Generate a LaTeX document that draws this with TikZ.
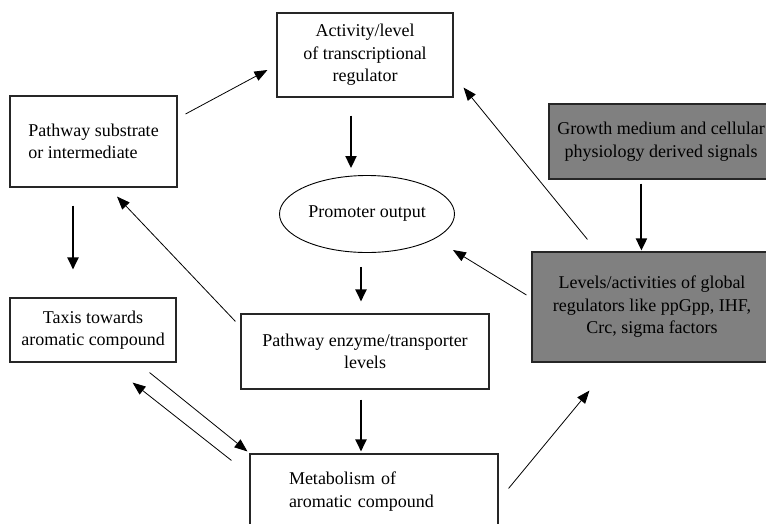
\documentclass[tikz,border=0pt]{standalone}
\usepackage{fontspec}
\setmainfont{Liberation Serif}
\usetikzlibrary{shapes.geometric, arrows.meta, calc}
\definecolor{regulgrey}{RGB}{128,128,128}
\tikzset{
  plainbox/.style={rectangle, draw=black!85, line width=1.1pt, align=center,
    inner sep=0pt, font=\fontsize{18}{22.5}\selectfont},
  greybox/.style={plainbox, fill=regulgrey},
  ovalnode/.style={ellipse, draw=black, line width=0.9pt, inner sep=0pt,
    font=\fontsize{18}{22.5}\selectfont},
  thinarrow/.style={-{Triangle[length=13pt,width=10pt]}, line width=0.8pt},
  boldarrow/.style={-{Triangle[length=12pt,width=11pt]}, line width=2pt}
}

\begin{document}
\begin{tikzpicture}[x=1pt, y=-1pt]
    \useasboundingbox (0,0) rectangle (766,523);
    \clip (0,0) rectangle (766,523);
    \node[plainbox, minimum width=176pt, minimum height=84pt] (activity)
      at (365,55) {Activity/level\\of transcriptional\\regulator};
    \node[plainbox, align=left, minimum width=167pt, minimum height=91pt]
      (substrate) at (93.5,141.5) {Pathway substrate\\or intermediate};
    \node[greybox, minimum width=224pt, minimum height=75pt] (growth)
      at (661,141.5) {Growth medium and cellular\\physiology derived signals};
    \node[ovalnode, minimum width=175pt, minimum height=77pt] (promoter)
      at (367,214) {Promoter output};
    \node[greybox, minimum width=240pt, minimum height=110pt] (levels)
      at (652,307) {Levels/activities of global\\regulators like ppGpp, IHF,\\Crc, sigma factors};
    \node[plainbox, minimum width=166pt, minimum height=64pt] (taxis)
      at (93,330) {Taxis towards\\aromatic compound};
    \node[plainbox, minimum width=248pt, minimum height=75pt] (enzyme)
      at (365,351.5) {Pathway enzyme/transporter\\levels};
    \node[plainbox, align=left, text width=170pt, inner xsep=39pt,
      minimum height=75pt] (metabolism)
      at (374,491.5) {Metabolism of\\aromatic compound};
    \draw[thinarrow] ($(substrate.east)+(8,-27.5)$) -- ($(activity.west)+(-9,15)$);
    \draw[boldarrow] ($(activity.south)+(-14,18)$) -- ($(promoter.north)+(-16,-7)$);
    \draw[thinarrow] ($(levels.north west)+(56,-12)$) -- ($(activity.south east)+(10,-10)$);
    \draw[boldarrow] ($(growth.south west)+(93,4)$) -- ($(levels.north west)+(110,-1)$);
    \draw[thinarrow] ($(levels.west)+(-5,-12)$) -- ($(promoter.east)+(-2,36)$);
    \draw[boldarrow] ($(promoter.south)+(-6,14)$) -- ($(enzyme.north)+(-4,-12)$);
    \draw[thinarrow] ($(enzyme.north west)+(-5,8)$) -- ($(substrate.south)+(23.5,9)$);
    \draw[boldarrow] ($(substrate.south)+(-20.5,18)$) -- ($(taxis.north)+(-20,-28)$);
    \draw[boldarrow] ($(enzyme.south)+(-4,10)$) -- ($(metabolism.north)+(-13,-2)$);
    \draw[thinarrow] ($(taxis.south east)+(-27,10)$) -- ($(metabolism.north west)+(-2,-2)$);
    \draw[thinarrow] ($(metabolism.north west)+(-18,7)$) -- ($(taxis.south east)+(-44,20)$);
    \draw[thinarrow] ($(metabolism.north east)+(10,35)$) -- ($(levels.south west)+(58,28)$);
  \end{tikzpicture}
\end{document}
